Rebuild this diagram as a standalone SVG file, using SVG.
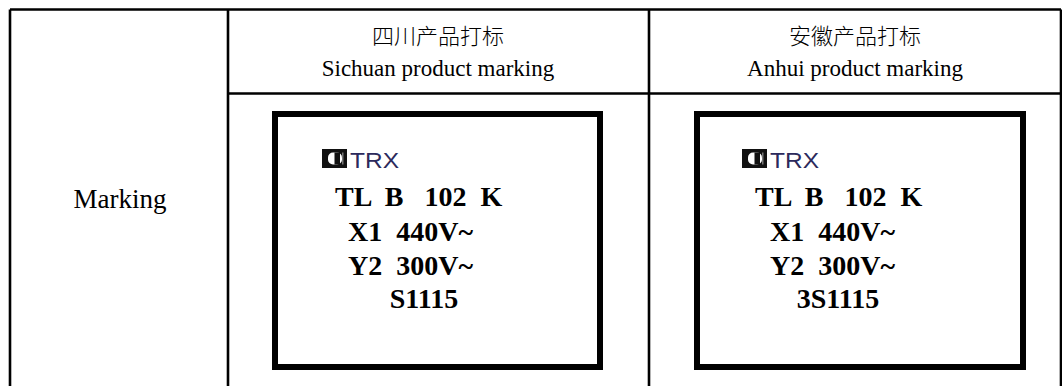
<svg xmlns="http://www.w3.org/2000/svg" width="1062" height="386" viewBox="0 0 1062 386">
<style>
.grid{stroke:#000;stroke-width:2.6;fill:none}
.box{stroke:#000;stroke-width:6;fill:none}
.hz{font-family:"Noto Sans CJK SC",sans-serif;font-weight:300;font-size:22px;fill:#000;text-anchor:middle}
.he{font-family:"Liberation Serif","Times New Roman",serif;font-size:23px;fill:#000;text-anchor:middle}
.lbl{font-family:"Liberation Serif","Times New Roman",serif;font-size:27px;fill:#000;text-anchor:middle}
.mk{font-family:"Liberation Serif","Times New Roman",serif;font-weight:bold;font-size:28px;fill:#000;white-space:pre}
.trx{font-family:"Liberation Sans",Arial,sans-serif;font-size:22px;fill:#2c2a5c}
</style>
<defs>
<g id="logo">
<rect x="0" y="0" width="25" height="19" fill="#111"/>
<rect x="6" y="3.5" width="14" height="12" rx="5" fill="#fff"/>
<rect x="12.5" y="3.5" width="5.5" height="12" fill="#111"/>
<rect x="20" y="3.5" width="1.5" height="12" fill="#777"/>
</g>
</defs>
<rect width="1062" height="386" fill="#fff"/>
<g id="table">
<path class="grid" d="M10,9.5 H1061 M10,9.5 V386 M1061,9.5 V386 M228,9.5 V386 M649,9.5 V386 M228,93.5 H1061"/>
</g>
<g id="header-sichuan">
<text class="hz" x="438" y="44">四川产品打标</text>
<text class="he" x="438" y="76">Sichuan product marking</text>
</g>
<g id="header-anhui">
<text class="hz" x="855" y="44">安徽产品打标</text>
<text class="he" x="855" y="76">Anhui product marking</text>
</g>
<g id="row-label">
<text class="lbl" x="120" y="208">Marking</text>
</g>
<g id="mark-sichuan">
<rect class="box" x="275" y="114" width="325" height="253"/>
<use href="#logo" x="322" y="149"/>
<text class="trx" x="350" y="168" textLength="49" lengthAdjust="spacingAndGlyphs">TRX</text>
<text class="mk" x="335" y="206">TL  B   102  K</text>
<text class="mk" x="348" y="241">X1  440V~</text>
<text class="mk" x="348" y="275">Y2  300V~</text>
<text class="mk" x="424" y="308" text-anchor="middle">S1115</text>
</g>
<g id="mark-anhui">
<rect class="box" x="697" y="114" width="326" height="253"/>
<use href="#logo" x="742" y="149"/>
<text class="trx" x="770" y="168" textLength="49" lengthAdjust="spacingAndGlyphs">TRX</text>
<text class="mk" x="755" y="206">TL  B   102  K</text>
<text class="mk" x="770" y="241">X1  440V~</text>
<text class="mk" x="770" y="275">Y2  300V~</text>
<text class="mk" x="838" y="308" text-anchor="middle">3S1115</text>
</g>
</svg>
